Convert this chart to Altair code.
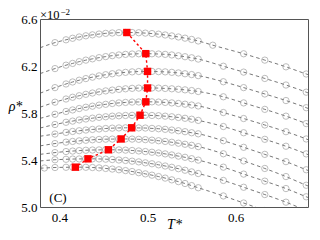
import altair as alt
import pandas as pd

CURVES = list("ABCDEFGHIJK")

T_DENSE = [0.395, 0.4075, 0.415, 0.4225, 0.43, 0.4375, 0.445, 0.4525, 0.46, 0.4675,
           0.475, 0.4825, 0.49, 0.4975, 0.505, 0.5125, 0.52, 0.5275, 0.535, 0.5425,
           0.55, 0.5575]
T_SPARSE = [0.586, 0.609, 0.633, 0.657, 0.68]
T_SPARSE_TOP = [0.574, 0.609, 0.633, 0.657, 0.68]
T_LEFT = 0.378
T_RIGHT = 0.682
T_EXTRA_K = 0.383
RHO_EXTRA_K = 5.332

RHO_A = [6.399, 6.423, 6.436, 6.447, 6.457, 6.465, 6.472, 6.478, 6.481, 6.484, 6.485, 6.485,
         6.483, 6.480, 6.476, 6.471, 6.464, 6.456, 6.447, 6.437, 6.426, 6.413,
         6.377, 6.304, 6.250, 6.193, 6.132]
RHO_B = [6.178, 6.207, 6.222, 6.237, 6.250, 6.261, 6.271, 6.280, 6.288, 6.294, 6.299, 6.302,
         6.304, 6.305, 6.304, 6.302, 6.299, 6.294, 6.287, 6.279, 6.270, 6.259,
         6.198, 6.148, 6.094, 6.038, 5.977]
RHO_C = [6.016, 6.047, 6.064, 6.079, 6.093, 6.105, 6.116, 6.126, 6.134, 6.141, 6.146, 6.150,
         6.153, 6.154, 6.154, 6.152, 6.150, 6.146, 6.141, 6.134, 6.127, 6.118,
         6.066, 6.016, 5.962, 5.906, 5.845]
RHO_D = [5.892, 5.919, 5.934, 5.947, 5.959, 5.970, 5.980, 5.988, 5.995, 6.001, 6.006, 6.010,
         6.012, 6.013, 6.013, 6.012, 6.009, 6.006, 6.002, 5.997, 5.991, 5.983,
         5.938, 5.886, 5.831, 5.773, 5.710]
RHO_E = [5.789, 5.813, 5.826, 5.838, 5.849, 5.858, 5.867, 5.874, 5.881, 5.886, 5.890, 5.893,
         5.894, 5.895, 5.895, 5.893, 5.890, 5.886, 5.881, 5.875, 5.868, 5.860,
         5.804, 5.753, 5.698, 5.641, 5.579]
RHO_F = [5.702, 5.721, 5.731, 5.741, 5.749, 5.756, 5.763, 5.768, 5.773, 5.776, 5.779, 5.780,
         5.781, 5.781, 5.779, 5.777, 5.773, 5.768, 5.762, 5.755, 5.747, 5.737,
         5.685, 5.632, 5.576, 5.517, 5.452]
RHO_G = [5.621, 5.635, 5.643, 5.649, 5.655, 5.660, 5.664, 5.668, 5.671, 5.673, 5.674, 5.674,
         5.673, 5.672, 5.669, 5.666, 5.661, 5.655, 5.649, 5.641, 5.632, 5.623,
         5.564, 5.508, 5.448, 5.386, 5.317]
RHO_H = [5.540, 5.552, 5.558, 5.563, 5.568, 5.572, 5.575, 5.577, 5.578, 5.579, 5.579, 5.578,
         5.576, 5.573, 5.569, 5.564, 5.558, 5.551, 5.543, 5.534, 5.525, 5.514,
         5.453, 5.392, 5.328, 5.259, 5.185]
RHO_I = [5.463, 5.472, 5.476, 5.480, 5.483, 5.485, 5.486, 5.487, 5.487, 5.486, 5.484, 5.481,
         5.477, 5.472, 5.466, 5.460, 5.452, 5.443, 5.433, 5.423, 5.411, 5.399,
         5.339, 5.280, 5.220, 5.157, 5.087]
RHO_J = [5.402, 5.406, 5.408, 5.409, 5.410, 5.410, 5.409, 5.407, 5.404, 5.400, 5.396, 5.390,
         5.384, 5.376, 5.368, 5.359, 5.349, 5.338, 5.326, 5.313, 5.299, 5.285,
         5.226, 5.168, 5.106, 5.041, 4.971]
RHO_K = [5.336, 5.338, 5.339, 5.339, 5.338, 5.336, 5.333, 5.328, 5.323, 5.317, 5.310, 5.302,
         5.292, 5.282, 5.271, 5.259, 5.246, 5.231, 5.216, 5.200, 5.182, 5.164,
         5.094, 5.034, 4.970, 4.902, 4.829]

RHO_LEFT = [6.355, 6.135, 5.968, 5.849, 5.754, 5.672, 5.602, 5.520, 5.448, 5.392, 5.330]
RHO_RIGHT = [6.127, 5.971, 5.839, 5.704, 5.573, 5.446, 5.311, 5.179, 5.081, 4.965, 4.823]

PEAK_T = [0.4765, 0.498, 0.500, 0.500, 0.498, 0.4915, 0.482, 0.470, 0.4556, 0.4324, 0.4181]
PEAK_RHO = [6.485, 6.305, 6.154, 6.013, 5.895, 5.781, 5.674, 5.579, 5.487, 5.410, 5.339]

X_TICKS = [0.4, 0.5, 0.6]
Y_TICKS = [5.0, 5.4, 5.8, 6.2, 6.6]

SERIES = [RHO_A, RHO_B, RHO_C, RHO_D, RHO_E, RHO_F, RHO_G, RHO_H, RHO_I, RHO_J, RHO_K]

pts, lns = [], []
for i, (c, rho) in enumerate(zip(CURVES, SERIES)):
    ts = T_DENSE + (T_SPARSE_TOP if c == "A" else T_SPARSE)
    cur = list(zip(ts, rho))
    if c == "K":
        cur = [(T_EXTRA_K, RHO_EXTRA_K)] + cur
    for t, r in cur:
        pts.append({"curve": c, "T": t, "rho": r})
    full = [(T_LEFT, RHO_LEFT[i])] + cur + [(T_RIGHT, RHO_RIGHT[i])]
    for t, r in full:
        lns.append({"curve": c, "T": t, "rho": r})

df_pts = pd.DataFrame(pts)
df_lns = pd.DataFrame(lns)
df_peak = pd.DataFrame({"T": PEAK_T, "rho": PEAK_RHO, "order": list(range(len(PEAK_T)))})

FONT = "Liberation Serif"

x_enc = alt.X("T:Q", scale=alt.Scale(domain=[T_LEFT, T_RIGHT], nice=False, zero=False),
              axis=alt.Axis(values=X_TICKS, format=".1f", title="T*", ticks=False,
                            labelPadding=4, titleFontStyle="italic", titleFontWeight="normal",
                            titleY=17, titleBaseline="middle", titleFontSize=14))
y_enc = alt.Y("rho:Q", scale=alt.Scale(domain=[5.0, 6.6], nice=False, zero=False),
              axis=alt.Axis(values=Y_TICKS, format=".1f", title="ρ*", ticks=False,
                            labelPadding=3, titleAngle=0, titleX=-25, titleY=87,
                            titleAlign="center", titleBaseline="middle",
                            titleFontStyle="italic", titleFontWeight="normal", titleFontSize=14))

lines = alt.Chart(df_lns).mark_line(
    color="#555555", strokeWidth=0.8, strokeDash=[3.5, 3], interpolate="monotone", clip=True
).encode(x=x_enc, y=y_enc, detail="curve:N", order="T:Q")

circles = alt.Chart(df_pts).mark_point(
    shape="circle", filled=False, color="#8a8a8a", size=40, strokeWidth=0.8, clip=True
).encode(x=x_enc, y=y_enc)

red_line = alt.Chart(df_peak).mark_line(
    color="#ff0000", strokeWidth=1.4, strokeDash=[2.5, 2.5]
).encode(x=x_enc, y=y_enc, order="order:Q")

squares = alt.Chart(df_peak).mark_square(
    color="#ff0000", size=55, opacity=1
).encode(x=x_enc, y=y_enc)

txt_x10 = alt.Chart(pd.DataFrame({"s": ["×10"]})).mark_text(
    font=FONT, fontSize=12.5, align="left", baseline="alphabetic", color="black"
).encode(text="s:N", x=alt.value(0), y=alt.value(-0.5))
txt_exp = alt.Chart(pd.DataFrame({"s": ["−2"]})).mark_text(
    font=FONT, fontSize=9, align="left", baseline="alphabetic", color="black"
).encode(text="s:N", x=alt.value(20.5), y=alt.value(-4))
txt_c = alt.Chart(pd.DataFrame({"s": ["(C)"]})).mark_text(
    font=FONT, fontSize=13, align="center", baseline="middle", color="black"
).encode(text="s:N", x=alt.value(18), y=alt.value(179))

chart = alt.layer(lines, circles, red_line, squares, txt_x10, txt_exp, txt_c).properties(
    width=268, height=188,
    autosize=alt.AutoSizeParams(type="none"),
    padding={"left": 32, "top": 11, "right": 4, "bottom": 25},
).configure_view(
    stroke="#555555", strokeWidth=1
).configure_axis(
    domain=False, grid=False, labelFont=FONT, titleFont=FONT, labelFontSize=13,
    labelColor="black", titleColor="black"
)

chart.save("out.html", embed_options={"renderer": "svg", "actions": False})
